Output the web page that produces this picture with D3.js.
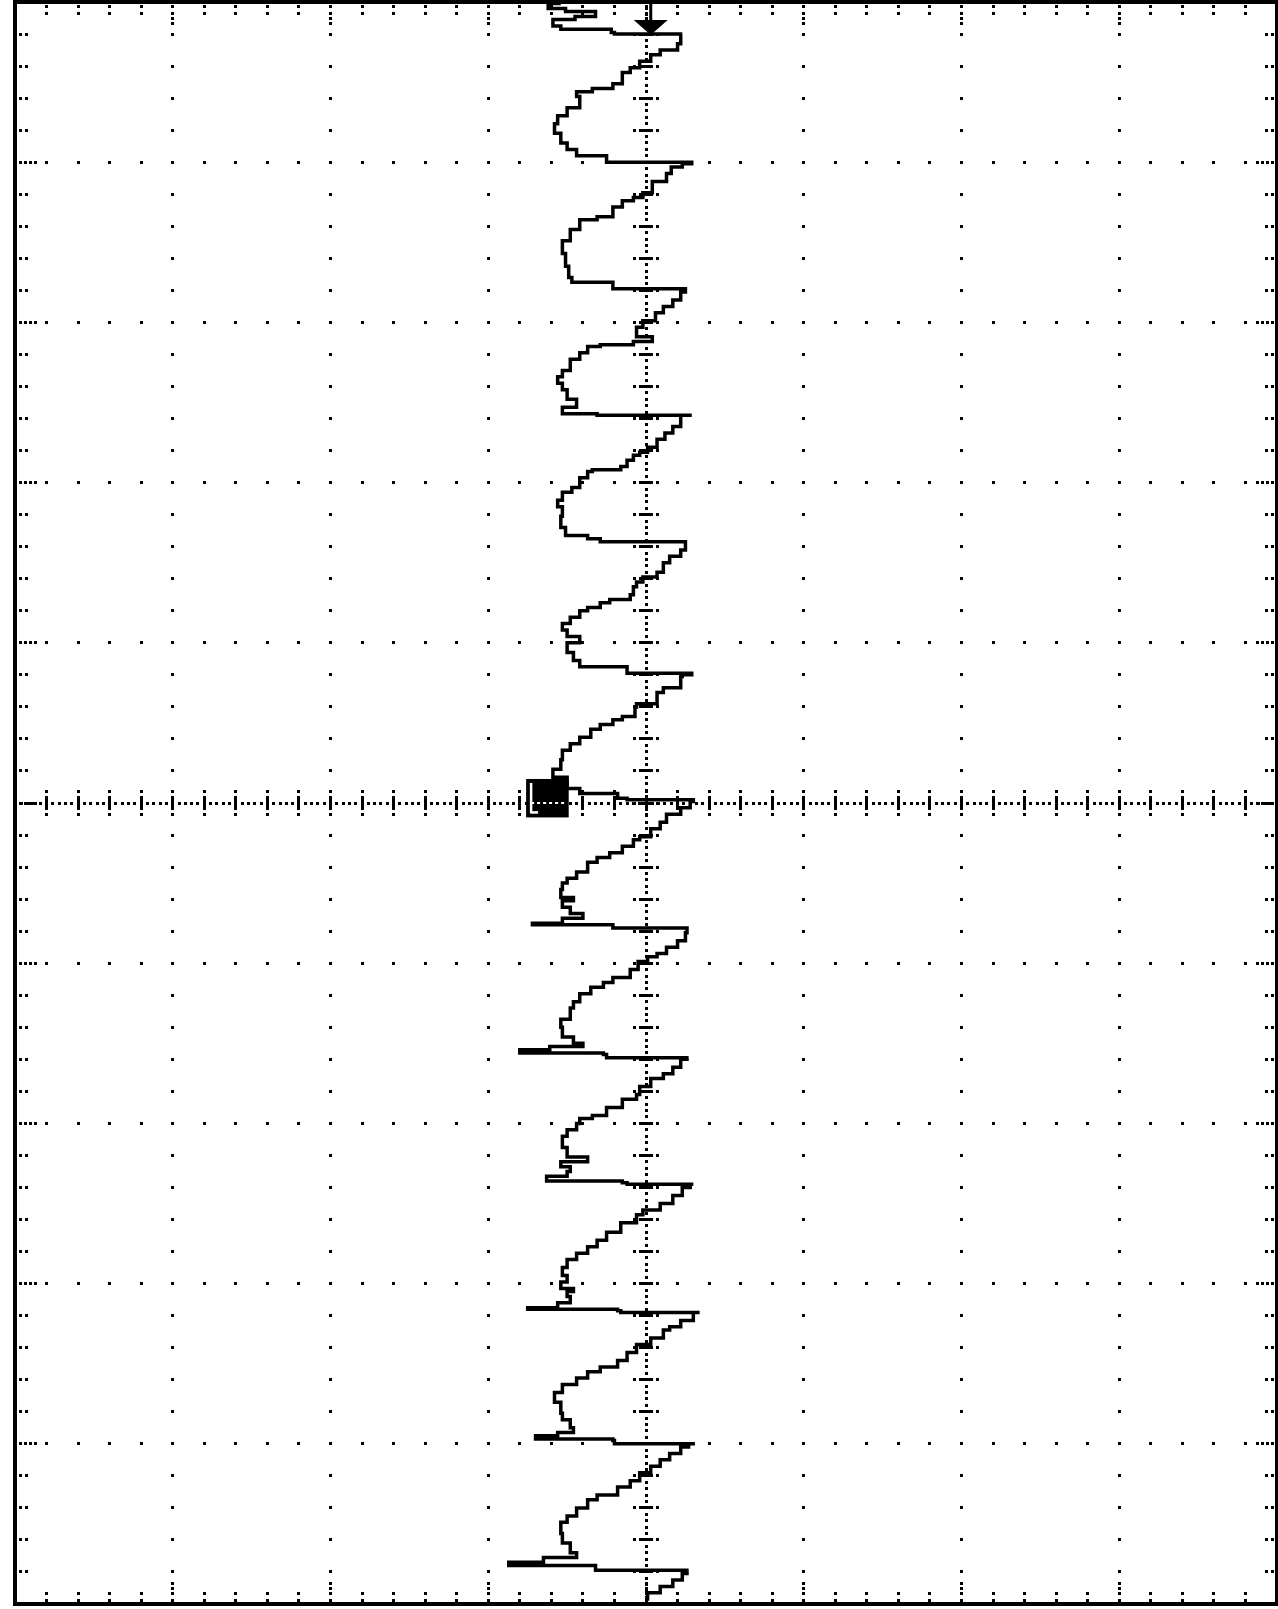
<!DOCTYPE html>
<html>
<head>
<meta charset="utf-8">
<script src="https://d3js.org/d3.v7.min.js"></script>
<style>
  body { margin: 0; background: #fff; }
</style>
</head>
<body>
<div id="scope"></div>
<script>
// graticule: 8 divisions across, 10 down, 5 minor steps per division
var xMajor = [-3, -2, -1, 1, 2, 3];
var yMajor = [1, 2, 3, 4, 6, 7, 8, 9];
var minorPerDiv = 5;
var axisDotsPerDiv = 25;

// trace, [time (div from top), amplitude (div from centre)]
var sweep0 = [[0.01,-0.54],[0.04,-0.62],[0.06,-0.51],[0.09,-0.32],[0.11,-0.45],[0.15,-0.59],[0.17,-0.54],[0.19,-0.22],[0.20,-0.20],[0.20,0.23]];
var sweep1 = [[0.26,0.22],[0.30,0.20],[0.33,0.09],[0.37,0.03],[0.41,-0.04],[0.44,-0.10],[0.51,-0.15],[0.54,-0.21],[0.56,-0.34],[0.59,-0.44],[0.66,-0.42],[0.71,-0.50],[0.76,-0.56],[0.82,-0.58],[0.88,-0.54],[0.92,-0.50],[0.96,-0.44],[0.97,-0.25],[1.00,-0.25],[1.01,0.29]];
var sweep2 = [[1.03,0.23],[1.07,0.16],[1.12,0.13],[1.19,0.04],[1.22,-0.02],[1.24,-0.08],[1.28,-0.15],[1.34,-0.21],[1.36,-0.31],[1.42,-0.42],[1.49,-0.48],[1.57,-0.53],[1.65,-0.51],[1.72,-0.49],[1.75,-0.47],[1.76,-0.21],[1.79,-0.21],[1.79,0.25]];
var sweep3 = [[1.81,0.25],[1.86,0.22],[1.90,0.17],[1.94,0.11],[1.99,0.06],[2.03,-0.02],[2.09,-0.06],[2.12,0.04],[2.14,-0.08],[2.15,-0.29],[2.19,-0.37],[2.23,-0.42],[2.30,-0.48],[2.34,-0.53],[2.38,-0.56],[2.42,-0.53],[2.48,-0.50],[2.53,-0.44],[2.57,-0.53],[2.57,-0.31],[2.58,-0.31],[2.58,0.29]];
var sweep4 = [[2.65,0.22],[2.69,0.17],[2.73,0.12],[2.78,0.07],[2.81,0.01],[2.83,-0.04],[2.86,-0.08],[2.90,-0.12],[2.92,-0.16],[2.93,-0.34],[2.97,-0.37],[3.03,-0.42],[3.06,-0.47],[3.11,-0.53],[3.15,-0.56],[3.21,-0.53],[3.28,-0.54],[3.33,-0.51],[3.35,-0.37],[3.37,-0.29],[3.39,0.25]];
var sweep5 = [[3.42,0.25],[3.46,0.22],[3.50,0.15],[3.56,0.11],[3.59,0.07],[3.62,-0.02],[3.65,-0.06],[3.70,-0.08],[3.73,-0.10],[3.75,-0.23],[3.78,-0.29],[3.80,-0.37],[3.84,-0.42],[3.88,-0.48],[3.92,-0.53],[3.96,-0.50],[4.00,-0.42],[4.03,-0.50],[4.06,-0.50],[4.11,-0.46],[4.15,-0.42],[4.16,-0.12],[4.19,-0.12],[4.20,0.29]];
var sweep6 = [[4.21,0.23],[4.28,0.22],[4.31,0.11],[4.38,0.07],[4.40,-0.06],[4.46,-0.07],[4.48,-0.15],[4.51,-0.21],[4.54,-0.29],[4.59,-0.35],[4.63,-0.42],[4.67,-0.48],[4.73,-0.53],[4.79,-0.54],[4.84,-0.59],[4.91,-0.50],[4.94,-0.42],[4.97,-0.18],[4.98,-0.12],[4.99,0.30]];
var sweep7 = [[5.03,0.28],[5.07,0.22],[5.12,0.13],[5.16,0.09],[5.21,0.03],[5.23,-0.04],[5.27,-0.08],[5.31,-0.15],[5.34,-0.23],[5.37,-0.31],[5.43,-0.37],[5.47,-0.44],[5.50,-0.50],[5.54,-0.53],[5.59,-0.54],[5.61,-0.46],[5.65,-0.53],[5.69,-0.48],[5.72,-0.40],[5.75,-0.53],[5.76,-0.72],[5.76,-0.22],[5.78,-0.21],[5.78,0.26]];
var sweep8 = [[5.81,0.26],[5.86,0.25],[5.90,0.20],[5.94,0.13],[5.96,0.07],[5.99,0.01],[6.04,-0.05],[6.09,-0.10],[6.12,-0.21],[6.15,-0.27],[6.19,-0.35],[6.24,-0.42],[6.28,-0.46],[6.35,-0.48],[6.40,-0.54],[6.46,-0.53],[6.50,-0.46],[6.52,-0.40],[6.54,-0.61],[6.56,-0.80],[6.57,-0.27],[6.59,-0.25],[6.59,0.27]];
var sweep9 = [[6.60,0.26],[6.65,0.22],[6.69,0.17],[6.72,0.11],[6.77,0.03],[6.82,-0.04],[6.85,-0.06],[6.90,-0.15],[6.95,-0.25],[6.97,-0.34],[7.00,-0.42],[7.04,-0.44],[7.08,-0.50],[7.15,-0.53],[7.21,-0.50],[7.24,-0.37],[7.27,-0.54],[7.30,-0.48],[7.33,-0.50],[7.36,-0.63],[7.37,-0.15],[7.38,-0.12],[7.38,0.30]];
var sweep10 = [[7.40,0.28],[7.45,0.23],[7.50,0.17],[7.54,0.09],[7.57,-0.02],[7.62,-0.06],[7.68,-0.16],[7.73,-0.25],[7.77,-0.31],[7.81,-0.37],[7.85,-0.44],[7.90,-0.50],[7.95,-0.53],[7.99,-0.50],[8.03,-0.54],[8.05,-0.46],[8.08,-0.50],[8.12,-0.48],[8.15,-0.56],[8.16,-0.75],[8.17,-0.18],[8.18,-0.16],[8.18,0.34]];
var sweep11 = [[8.23,0.30],[8.27,0.22],[8.29,0.15],[8.34,0.11],[8.38,0.03],[8.43,-0.06],[8.48,-0.12],[8.52,-0.18],[8.55,-0.29],[8.59,-0.37],[8.63,-0.44],[8.68,-0.53],[8.74,-0.58],[8.81,-0.54],[8.85,-0.53],[8.90,-0.48],[8.93,-0.46],[8.95,-0.56],[8.97,-0.70],[8.98,-0.21],[9.00,-0.20],[9.00,0.31]];
var sweep12 = [[9.02,0.27],[9.06,0.22],[9.10,0.15],[9.14,0.09],[9.18,0.03],[9.23,-0.04],[9.27,-0.10],[9.32,-0.18],[9.35,-0.31],[9.40,-0.37],[9.45,-0.44],[9.49,-0.50],[9.56,-0.54],[9.62,-0.53],[9.68,-0.48],[9.71,-0.44],[9.74,-0.65],[9.76,-0.87],[9.76,-0.32],[9.79,-0.32],[9.79,0.27]];
var sweep13 = [[9.81,0.26],[9.85,0.23],[9.89,0.17],[9.93,0.09],[9.93,0.03],[9.98,0.01]];

// trigger position arrow (div) and level marker box
var triggerPos = 0.03;
var levelBox = [-0.76, -0.49, 4.85, 5.09];

var width = 1278, height = 1609;

var svg = d3.select("#scope")
    .append("svg")
    .attr("width", width)
    .attr("height", height);

var x = d3.scaleLinear().domain([-4, 4]).range([15, 1277]);
var y = d3.scaleLinear().domain([0, 10]).range([2, 1604]);

function dot(g, cx, cy, s) {
    g.append("rect")
        .attr("x", cx - s / 2).attr("y", cy - s / 2)
        .attr("width", s).attr("height", s)
        .attr("fill", "#000");
}

var grid = svg.append("g").attr("shape-rendering", "crispEdges");

// dotted major lines
var minorT = d3.range(1, 10 * minorPerDiv).map(function (i) { return i / minorPerDiv; });
var minorA = d3.range(-4 * minorPerDiv + 1, 4 * minorPerDiv).map(function (i) { return i / minorPerDiv; });

xMajor.forEach(function (a) {
    minorT.forEach(function (t) { dot(grid, x(a), y(t), 3); });
});
yMajor.forEach(function (t) {
    minorA.forEach(function (a) { dot(grid, x(a), y(t), 3); });
});

// centre axes: fine dots plus cross ticks
d3.range(0, 10 * axisDotsPerDiv + 1).forEach(function (i) {
    dot(grid, x(0), y(i / axisDotsPerDiv), 3);
});
d3.range(-4 * axisDotsPerDiv, 4 * axisDotsPerDiv + 1).forEach(function (i) {
    dot(grid, x(i / axisDotsPerDiv), y(5), 3);
});
minorT.forEach(function (t) {
    grid.append("rect").attr("x", x(0) - 7).attr("y", y(t) - 1.5)
        .attr("width", 14).attr("height", 3).attr("fill", "#000");
    dot(grid, x(0) - 11.5, y(t), 3);
    dot(grid, x(0) + 11.5, y(t), 3);
});
minorA.forEach(function (a) {
    grid.append("rect").attr("x", x(a) - 1.5).attr("y", y(5) - 7)
        .attr("width", 3).attr("height", 14).attr("fill", "#000");
    dot(grid, x(a), y(5) - 11.5, 3);
    dot(grid, x(a), y(5) + 11.5, 3);
});

// ticks on the frame
minorT.forEach(function (t, i) {
    var offs = (i + 1) % minorPerDiv === 0 ? [5, 10, 15, 20] : [5, 11];
    offs.forEach(function (o) {
        dot(grid, x(-4) + o, y(t), 3);
        dot(grid, x(4) - o, y(t), 3);
    });
});
minorA.forEach(function (a, i) {
    var offs = (i + 1) % minorPerDiv === 0 ? [4, 11, 16, 21] : [4, 11];
    offs.forEach(function (o) {
        dot(grid, x(a), y(0) + o, 3);
        dot(grid, x(a), y(10) - o, 3);
    });
});

// frame
svg.append("rect")
    .attr("x", x(-4)).attr("y", y(0))
    .attr("width", x(4) - x(-4)).attr("height", y(10) - y(0))
    .attr("fill", "none")
    .attr("stroke", "#000")
    .attr("stroke-width", 4);

// the trace
var trace = [].concat(sweep0, sweep1, sweep2, sweep3, sweep4, sweep5, sweep6,
    sweep7, sweep8, sweep9, sweep10, sweep11, sweep12, sweep13);

svg.append("path")
    .datum(trace)
    .attr("fill", "none")
    .attr("stroke", "#000")
    .attr("stroke-width", 3.5)
    .attr("stroke-linejoin", "miter")
    .attr("d", d3.line()
        .x(function (d) { return x(d[1]); })
        .y(function (d) { return y(d[0]); })
        .curve(d3.curveStepAfter)
    );

// trigger position arrow at the top
var tx = x(triggerPos);
svg.append("line")
    .attr("x1", tx).attr("x2", tx)
    .attr("y1", y(0)).attr("y2", y(0) + 20)
    .attr("stroke", "#000").attr("stroke-width", 3);
svg.append("path")
    .attr("d", "M" + (tx - 17) + "," + (y(0) + 18) + "L" + (tx + 17) + "," + (y(0) + 18) + "L" + tx + "," + (y(0) + 33) + "Z")
    .attr("fill", "#000");

// level marker box on the left of the centre line
var bx0 = x(levelBox[0]), bx1 = x(levelBox[1]), by0 = y(levelBox[2]), by1 = y(levelBox[3]);
svg.append("rect")
    .attr("x", bx0).attr("y", by0)
    .attr("width", bx1 - bx0).attr("height", by1 - by0)
    .attr("fill", "#000");
svg.append("line")
    .attr("x1", bx0 + 5).attr("x2", bx0 + 5)
    .attr("y1", by0 + 4).attr("y2", by1 - 4)
    .attr("stroke", "#fff").attr("stroke-width", 2.5);
svg.append("line")
    .attr("x1", bx0 + 5).attr("x2", bx1 - 3)
    .attr("y1", y(5)).attr("y2", y(5))
    .attr("stroke", "#fff").attr("stroke-width", 2)
    .attr("stroke-dasharray", "3,3");
svg.append("line")
    .attr("x1", bx0 + 5).attr("x2", bx0 + 12)
    .attr("y1", by1 - 5).attr("y2", by1 - 5)
    .attr("stroke", "#fff").attr("stroke-width", 2.5);
</script>
</body>
</html>
